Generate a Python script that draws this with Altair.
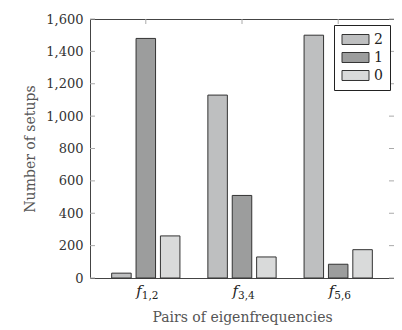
import altair as alt
import pandas as pd

groups = ["f12", "f34", "f56"]
sub_labels = ["1,2", "3,4", "5,6"]
series = ["2", "1", "0"]
vals_2 = [30, 1130, 1500]
vals_1 = [1480, 510, 85]
vals_0 = [260, 130, 175]
y_ticks = [0, 200, 400, 600, 800, 1000, 1200, 1400, 1600]
colors = ["#bebfc0", "#9c9d9d", "#d9dada"]

rows = []
for i, g in enumerate(groups):
    for s, vals in zip(series, [vals_2, vals_1, vals_0]):
        rows.append({"g": g, "s": s, "v": vals[i]})
df = pd.DataFrame(rows)
df_ticks = pd.DataFrame({"t": y_ticks})
df_groups = pd.DataFrame({"g": groups, "sub": sub_labels, "f": ["f"] * 3})

W, H = 304, 259
FONT = "DejaVu Serif"
FS = 13
xscale = alt.Scale(domain=groups, paddingInner=0.25, paddingOuter=0.205)
yscale = alt.Scale(domain=[0, 1600], nice=False)

xaxis = alt.Axis(labels=False, ticks=False, domain=False, grid=False,
                 title="Pairs of eigenfrequencies", titlePadding=32)
yaxis = alt.Axis(values=y_ticks, format=",d", ticks=False, domain=False, grid=False,
                 labelPadding=7, title="Number of setups", titlePadding=8)

rect_path = "M-2,-0.74H2V0.74H-2Z"

bars = alt.Chart(df).mark_bar(stroke="#333333", strokeWidth=1).encode(
    x=alt.X("g:N", scale=xscale, sort=groups, axis=xaxis),
    xOffset=alt.XOffset("s:N", sort=series,
                        scale=alt.Scale(domain=series, paddingInner=0.2, paddingOuter=0.08)),
    y=alt.Y("v:Q", scale=yscale, axis=yaxis),
    fill=alt.Fill("s:N", sort=series, scale=alt.Scale(domain=series, range=colors),
                  legend=alt.Legend(orient="none", legendX=244, legendY=6, title=None,
                                    padding=7, strokeColor="#222222", fillColor="white",
                                    symbolType=rect_path, symbolSize=182, symbolOffset=7,
                                    symbolStrokeColor="#333333", symbolStrokeWidth=1,
                                    symbolOpacity=1,
                                    labelFont=FONT, labelFontSize=FS + 1, labelColor="#222222",
                                    labelOffset=11, rowPadding=3, cornerRadius=0)),
)

tick_left = alt.Chart(df_ticks).mark_rule(color="#aaaaaa", strokeWidth=1).encode(
    y=alt.Y("t:Q", scale=yscale, axis=yaxis), x=alt.value(0), x2=alt.value(5))
tick_right = alt.Chart(df_ticks).mark_rule(color="#aaaaaa", strokeWidth=1).encode(
    y=alt.Y("t:Q", scale=yscale, axis=yaxis), x=alt.value(W - 5), x2=alt.value(W))
tick_top = alt.Chart(df_groups).mark_rule(color="#aaaaaa", strokeWidth=1).encode(
    x=alt.X("g:N", scale=xscale, sort=groups, axis=xaxis), y=alt.value(0), y2=alt.value(5))
tick_bot = alt.Chart(df_groups).mark_rule(color="#aaaaaa", strokeWidth=1).encode(
    x=alt.X("g:N", scale=xscale, sort=groups, axis=xaxis), y=alt.value(H - 5), y2=alt.value(H))

lab_f = alt.Chart(df_groups).mark_text(
    font=FONT, fontStyle="italic", fontSize=15, align="right", baseline="alphabetic",
    dx=-4, color="#222222").encode(
    x=alt.X("g:N", scale=xscale, sort=groups, axis=xaxis), y=alt.value(H + 18), text="f:N")
lab_sub = alt.Chart(df_groups).mark_text(
    font=FONT, fontSize=10.5, align="left", baseline="alphabetic",
    dx=-4, color="#222222").encode(
    x=alt.X("g:N", scale=xscale, sort=groups, axis=xaxis), y=alt.value(H + 21), text="sub:N")

chart = alt.layer(tick_left, tick_right, tick_top, tick_bot, bars, lab_f, lab_sub).properties(
    width=W, height=H,
    autosize=alt.AutoSizeParams(type="none"),
    padding={"left": 82, "top": 11, "right": 0, "bottom": 48},
).configure_view(stroke="#444444", strokeWidth=1).configure_axis(
    labelFont=FONT, titleFont=FONT, labelFontSize=FS, titleFontSize=FS + 1,
    labelColor="#333333", titleColor="#555555", titleFontWeight="normal",
)

chart.save("out.html", embed_options={"renderer": "svg", "actions": False})
